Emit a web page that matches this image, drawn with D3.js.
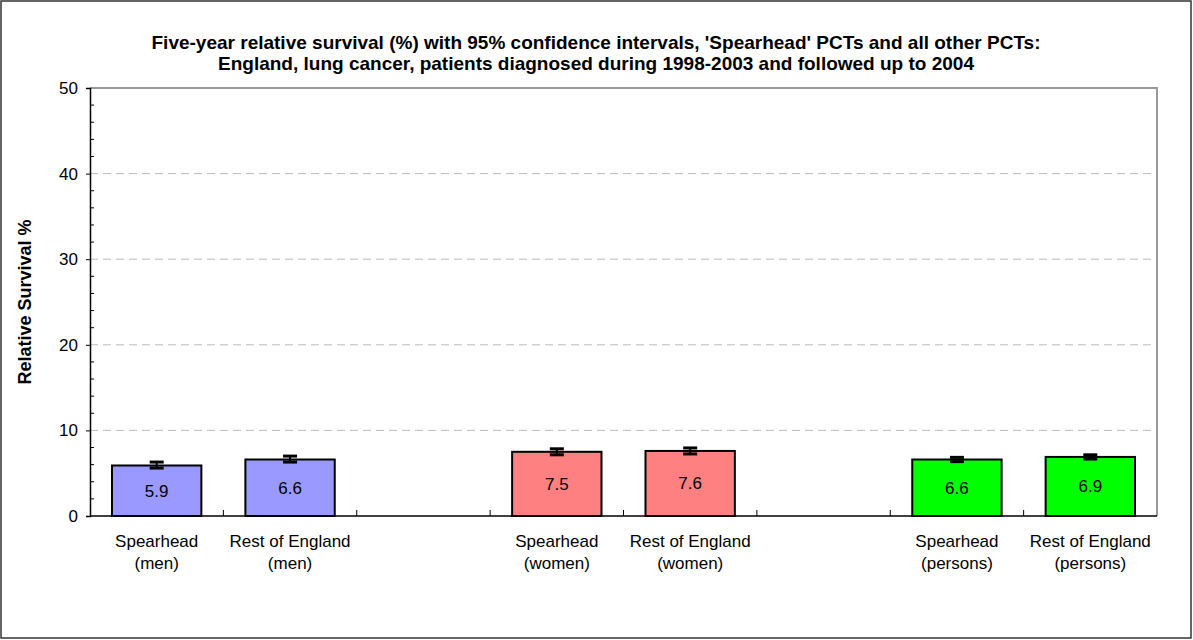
<!DOCTYPE html>
<html><head><meta charset="utf-8">
<script src="https://cdn.jsdelivr.net/npm/d3@7"></script>
<style>body{margin:0;background:#fff}svg{display:block;font-family:"Liberation Sans",Arial,sans-serif}</style>
</head><body><svg id="c" width="1193" height="640"></svg>
<script>
const slots = ["sm","rm","g1","sw","rw","g2","sp","rp"];
const categories = ["sm","rm","sw","rw","sp","rp"];
const labelLine1 = ["Spearhead","Rest of England","Spearhead","Rest of England","Spearhead","Rest of England"];
const labelLine2 = ["(men)","(men)","(women)","(women)","(persons)","(persons)"];
const values = [5.9, 6.6, 7.5, 7.6, 6.6, 6.9];
const lower = [5.6, 6.3, 7.15, 7.25, 6.35, 6.65];
const upper = [6.3, 7.0, 7.85, 7.95, 6.85, 7.15];
const colors = ["#9999FF","#9999FF","#FF8080","#FF8080","#00FF00","#00FF00"];
const yTicks = [0,10,20,30,40,50];
const yMinor = [2,4,6,8,12,14,16,18,22,24,26,28,32,34,36,38,42,44,46,48];
const titleLines = ["Five-year relative survival (%) with 95% confidence intervals, 'Spearhead' PCTs and all other PCTs:",
 "England, lung cancer, patients diagnosed during 1998-2003 and followed up to 2004"];

const svg = d3.select("#c");
const L=90,R=1157,T=88,B=516;
svg.append("rect").attr("x",1).attr("y",1).attr("width",1190).attr("height",637)
  .attr("fill","none").attr("stroke","#333").attr("stroke-width",1.5);

const x = d3.scaleBand().domain(slots).range([L,R]).paddingInner(0.33).paddingOuter(0.165);
const y = d3.scaleLinear().domain([0,50]).range([B,T]);

// title
svg.append("g").selectAll("text").data(titleLines).join("text")
  .attr("x",596).attr("y",(d,i)=>49+i*21).attr("text-anchor","middle")
  .attr("font-size",19).attr("font-weight","bold").text(d=>d);

// grid
svg.append("g").selectAll("line").data(yTicks.filter(v=>v>0&&v<50)).join("line")
  .attr("x1",L).attr("x2",R).attr("y1",d=>y(d)).attr("y2",d=>y(d))
  .attr("stroke","#bbb").attr("stroke-dasharray","8,5");

// frame top/right
svg.append("path").attr("d",`M${L},${T}H${R}V${B}`).attr("fill","none").attr("stroke","#999").attr("stroke-width",2);

// bars
const bx = i=>x(categories[i]);
svg.append("g").selectAll("rect").data(values).join("rect")
  .attr("x",(d,i)=>bx(i)).attr("width",x.bandwidth())
  .attr("y",d=>y(d)).attr("height",d=>B-y(d))
  .attr("fill",(d,i)=>colors[i]).attr("stroke","#000").attr("stroke-width",2);

// value labels
svg.append("g").selectAll("text").data(values).join("text")
  .attr("x",(d,i)=>bx(i)+x.bandwidth()/2).attr("y",d=>(y(d)+B)/2+6)
  .attr("text-anchor","middle").attr("font-size",17).text(d=>d.toFixed(1));

// error bars
const eb = svg.append("g").attr("stroke","#000");
values.forEach((v,i)=>{
  const cx = bx(i)+x.bandwidth()/2;
  eb.append("line").attr("x1",cx).attr("x2",cx).attr("y1",y(lower[i])).attr("y2",y(upper[i])).attr("stroke-width",2);
  [lower[i],upper[i]].forEach(e=>eb.append("line").attr("x1",cx-7).attr("x2",cx+7).attr("y1",y(e)).attr("y2",y(e)).attr("stroke-width",3));
});

// y axis
const yAxis = svg.append("g").attr("transform",`translate(${L},0)`)
  .call(d3.axisLeft(y).tickValues(yTicks).tickSize(4).tickPadding(8));
yAxis.select(".domain").attr("stroke","#000").attr("stroke-width",1.5);
yAxis.selectAll("text").attr("font-size",17).attr("fill","#000").attr("font-family","Liberation Sans, Arial, sans-serif");
svg.append("g").selectAll("line").data(yMinor).join("line")
  .attr("x1",L).attr("x2",L+4).attr("y1",d=>y(d)).attr("y2",d=>y(d)).attr("stroke","#000");

// x axis
svg.append("line").attr("x1",L).attr("x2",R).attr("y1",B).attr("y2",B).attr("stroke","#000").attr("stroke-width",1.5);
const bounds = d3.range(1,slots.length).map(k=>x(slots[k]) - x.step()*x.paddingInner()/2);
svg.append("g").selectAll("line").data(bounds).join("line")
  .attr("x1",d=>d).attr("x2",d=>d).attr("y1",B).attr("y2",B-6).attr("stroke","#000");

// category labels
const cl = svg.append("g").attr("font-size",17).attr("text-anchor","middle");
categories.forEach((c,i)=>{
  const cx = x(c)+x.bandwidth()/2;
  cl.append("text").attr("x",cx).attr("y",547).text(labelLine1[i]);
  cl.append("text").attr("x",cx).attr("y",569).text(labelLine2[i]);
});

// y title
svg.append("text").attr("transform",`translate(31,${(T+B)/2}) rotate(-90)`)
  .attr("text-anchor","middle").attr("font-size",18).attr("font-weight","bold").text("Relative Survival %");
</script></body></html>
